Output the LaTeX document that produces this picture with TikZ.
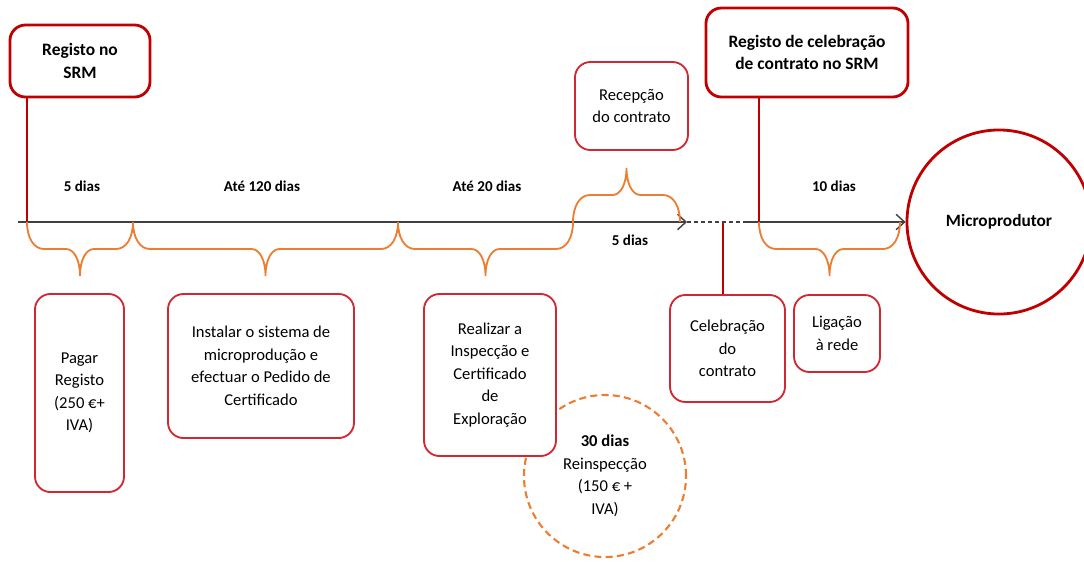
\documentclass[tikz,border=0pt]{standalone}
\usepackage{fontspec}
\setmainfont{Carlito}
\usetikzlibrary{arrows.meta, positioning, calc}
\definecolor{myred}{RGB}{192,0,0}
\definecolor{mysoftred}{RGB}{208,40,50}
\definecolor{myorange}{RGB}{237,125,49}
\definecolor{mydark}{RGB}{64,64,64}
\tikzset{
  keybox/.style={rectangle, draw=myred, fill=white, align=center,
    rounded corners=11pt, line width=2pt, inner sep=2pt,
    font=\fontsize{12.4}{16}\selectfont\bfseries},
  stepbox/.style={rectangle, draw=mysoftred, fill=white, align=center,
    rounded corners=11pt, line width=1.3pt, inner sep=2pt,
    font=\fontsize{11.8}{16}\selectfont},
  endnode/.style={circle, draw=myred, fill=white, line width=2pt,
    font=\fontsize{12.3}{16}\selectfont\bfseries},
  optnode/.style={circle, draw=myorange, fill=white, line width=1.5pt,
    dash pattern=on 5pt off 3pt, align=center,
    font=\fontsize{11.8}{16}\selectfont},
  daylabel/.style={font=\fontsize{10.7}{12}\selectfont\bfseries, text=black},
  axisline/.style={-{Straight Barb[length=6pt, width=11pt]}, line width=1pt, color=mydark},
  dashline/.style={line width=1pt, color=mydark, dash pattern=on 3pt off 2pt},
  tick/.style={line width=1pt, color=myred},
  bracel/.style={line width=1.3pt, color=myorange}
}
% x1, x2, axis y, half depth (negative = upwards)
\newcommand{\obrace}[4]{%
  \draw[bracel] (#1,#3) .. controls (#1,{#3+0.6*#4}) and ({#1+7},{#3+#4}) .. ({#1+17},{#3+#4})
    -- ({(#1+#2)/2-14},{#3+#4}) .. controls ({(#1+#2)/2-6},{#3+#4}) and ({(#1+#2)/2},{#3+1.4*#4}) .. ({(#1+#2)/2},{#3+2*#4})
    .. controls ({(#1+#2)/2},{#3+1.4*#4}) and ({(#1+#2)/2+6},{#3+#4}) .. ({(#1+#2)/2+14},{#3+#4})
    -- ({#2-17},{#3+#4}) .. controls ({#2-7},{#3+#4}) and (#2,{#3+0.6*#4}) .. (#2,#3);}

\begin{document}
\begin{tikzpicture}[x=0.025cm, y=-0.025cm]
  \useasboundingbox (0,0) rectangle (1084,561);

  % points on the time line
  \coordinate (t0) at (18,222);
  \coordinate (t1) at (27,222);
  \coordinate (t2) at (133,222);
  \coordinate (t3) at (398,222);
  \coordinate (t4) at (573,222);
  \coordinate (t5) at (687,222);
  \coordinate (t6) at (723,222);
  \coordinate (t7) at (746,222);
  \coordinate (t8) at (759,222);

  \node [optnode, minimum size=4.05cm] (reinsp) at (605,476)
    {\textbf{30 dias}\\Reinspecção\\(150 € +\\IVA)};

  \node [keybox, minimum width=3.5cm, minimum height=1.8cm] (srm) at (80,61) {Registo no\\SRM};
  \node [keybox, minimum width=5.05cm, minimum height=2.225cm] (regcel) at (807,52.5)
    {Registo de celebração\\de contrato no SRM};
  \node [stepbox, minimum width=2.825cm, minimum height=2.2cm] (recep) at (631.5,106)
    {Recepção\\do contrato};
  \node [endnode, minimum size=4.6cm] (micro) at (999,222) {Microprodutor};

  \node [stepbox, minimum width=2.225cm, minimum height=4.95cm] (pagar) at (79.5,393)
    {Pagar\\Registo\\(250 €+\\IVA)};
  \node [stepbox, minimum width=4.65cm, minimum height=3.6cm] (instalar) at (261,366)
    {Instalar o sistema de\\microprodução e\\efectuar o Pedido de\\Certificado};
  \node [stepbox, minimum width=3.3cm, minimum height=4.05cm] (realizar) at (490,375)
    {Realizar a\\Inspecção e\\Certificado\\de\\Exploração};
  \node [stepbox, minimum width=2.875cm, minimum height=2.675cm] (celeb) at (727.5,348.5)
    {Celebração\\do\\contrato};
  \node [stepbox, minimum width=2.15cm, minimum height=1.925cm] (ligacao) at (837,333.5)
    {Ligação\\à rede};

  % time line
  \draw[tick] (srm.south -| t1) -- (t1);
  \draw[tick] (regcel.south -| t8) -- (t8);
  \draw[tick] (t6) -- (celeb.north -| t6);
  \draw[axisline] (t0) -- (t5);
  \draw[dashline] (t5) -- (t7);
  \draw[axisline] (t7) -- (micro.west);

  \obrace{27}{133}{222}{27}
  \obrace{133}{398}{222}{27}
  \obrace{398}{573}{222}{27}
  \obrace{759}{900}{222}{27}
  \obrace{573}{680}{222}{-27}

  \node [daylabel] (d1) at (82,186) {5 dias};
  \node [daylabel] (d2) at (262,186) {Até 120 dias};
  \node [daylabel] (d3) at (487,186) {Até 20 dias};
  \node [daylabel] (d4) at (630,240) {5 dias};
  \node [daylabel] (d5) at (834,186) {10 dias};
\end{tikzpicture}
\end{document}
